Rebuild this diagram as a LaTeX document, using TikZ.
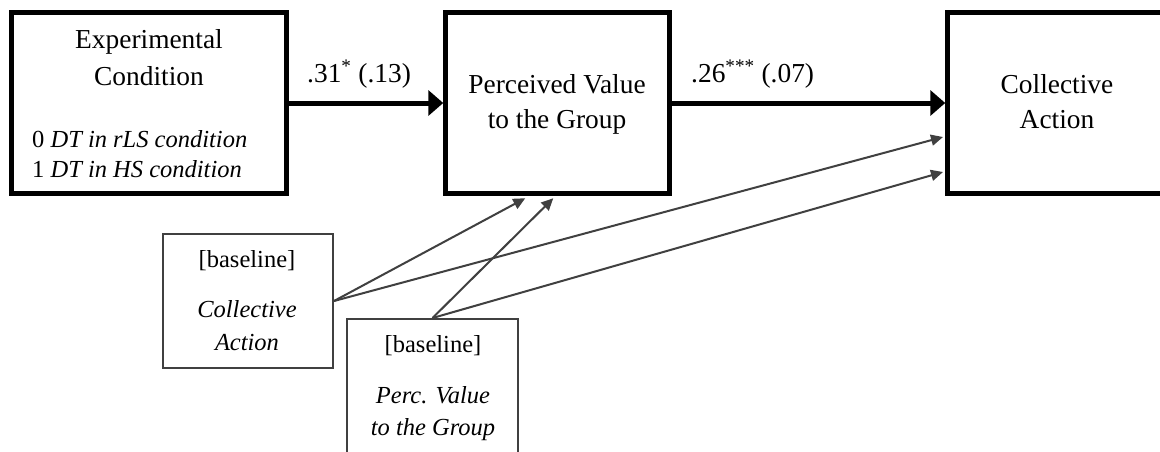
\documentclass[tikz,border=0pt]{standalone}
\usepackage{fontspec}
\setmainfont{Liberation Serif}
\usetikzlibrary{arrows.meta,calc}
\definecolor{dgray}{HTML}{404040}
\begin{document}
\begin{tikzpicture}[x=1pt,y=-1pt,
  bigbox/.style={draw=black, line width=4.5pt, inner sep=0pt},
  smallbox/.style={draw=dgray, line width=2pt, inner sep=0pt},
  hd/.style={font=\fontsize{27.4}{31}\selectfont, anchor=base, inner sep=0pt},
  sm/.style={font=\fontsize{24.5}{28}\selectfont, anchor=base, inner sep=0pt},
  mainarrow/.style={line width=5pt, -{Triangle[length=15pt,width=25pt]}},
  subarrow/.style={draw=dgray, line width=2pt, -{Triangle[length=12pt,width=11pt]}}
]
\clip (0,0) rectangle (1160,451);
\fill[white] (0,0) rectangle (1160,451);

% main boxes
\node[bigbox, minimum width=275pt, minimum height=181pt] (ec) at (149,103) {};
\node[bigbox, minimum width=224pt, minimum height=181pt] (pv) at (557.5,103) {};
\node[bigbox, minimum width=224pt, minimum height=181pt] (ca) at (1059.5,103) {};

% baseline boxes
\node[smallbox, minimum width=170pt, minimum height=134pt] (cab) at (248,301) {};
\node[smallbox, minimum width=171pt, minimum height=143pt] (pvb) at (432.5,390.5) {};

% texts box 1
\node[hd] (t1) at (149,48) {Experimental};
\node[hd] (t2) at (149,85) {Condition};
\node[sm, anchor=base west] (t3) at (32,147) {0 \textit{DT in rLS condition}};
\node[sm, anchor=base west] (t4) at (32,177) {1 \textit{DT in HS condition}};

% texts box 2
\node[hd] (t5) at (557,93) {Perceived Value};
\node[hd] (t6) at (557,128) {to the Group};

% texts box 3
\node[hd] (t7) at (1057,93) {Collective};
\node[hd] (t8) at (1057,128) {Action};

% path labels
\node[hd, anchor=base west] (l1) at (307,82) {.31\textsuperscript{*} (.13)};
\node[hd, anchor=base west] (l2) at (691,82) {.26\textsuperscript{***} (.07)};

% baseline texts
\node[sm] (b1) at (247,267) {[baseline]};
\node[sm] (b2) at (247,317) {\textit{Collective}};
\node[sm] (b3) at (247,350) {\textit{Action}};
\node[sm] (b4) at (433,352) {[baseline]};
\node[sm] (b5) at (433,403) {\textit{Perc. Value}};
\node[sm] (b6) at (433,435) {\textit{to the Group}};

% main connectors
\draw[mainarrow] (ec.east) -- (pv.west);
\draw[mainarrow] (pv.east) -- (ca.west);

% arrow targets
\coordinate (e1) at ($(pv.south west)+(82,2.5)$);
\coordinate (e2) at ($(pv.south west)+(110,2.5)$);
\coordinate (e3) at ($(ca.west)+(-2.25,34)$);
\coordinate (e4) at ($(ca.west)+(-2.25,69)$);

\draw[subarrow] (cab.east) -- (e1);
\draw[subarrow] (cab.east) -- (e3);
\draw[subarrow] (pvb.north) -- (e2);
\draw[subarrow] (pvb.north) -- (e4);
\end{tikzpicture}
\end{document}
